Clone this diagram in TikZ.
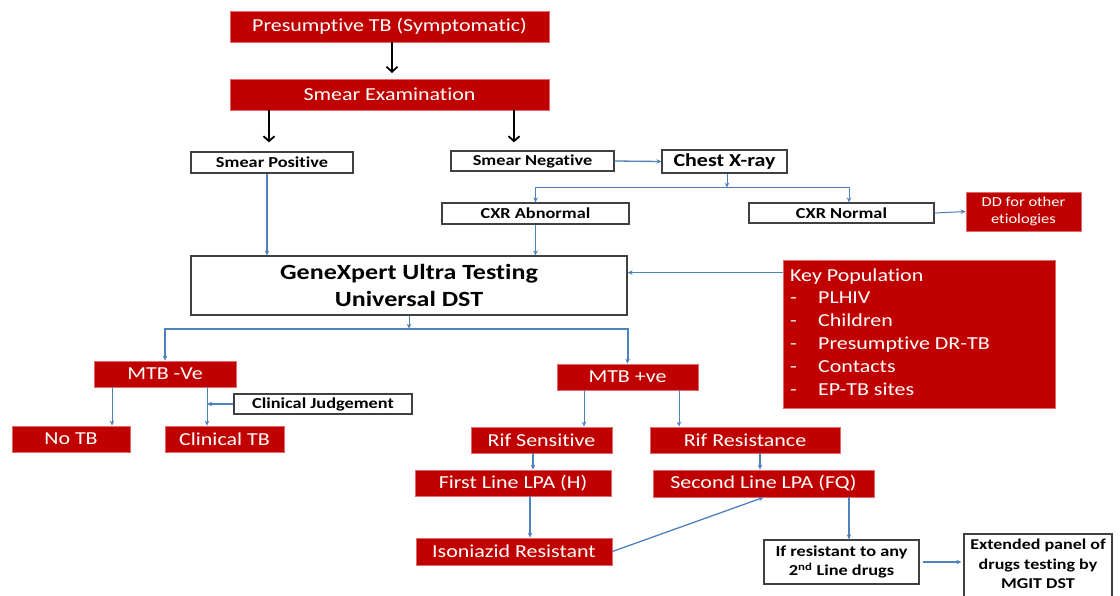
\documentclass[tikz,border=0pt]{standalone}
\usepackage{fontspec}
\setmainfont{Carlito}[Ligatures=NoCommon, FakeStretch=1.2]
\usetikzlibrary{arrows.meta,calc}
\definecolor{tbred}{HTML}{C00000}
\definecolor{tbblue}{HTML}{4F81BD}
\definecolor{tbedge}{HTML}{E06A6A}
\definecolor{tbgray}{HTML}{404040}
\tikzset{
 redbox/.style={fill=tbred, draw=tbedge, line width=0.8pt, text=white, inner sep=0pt, align=center, font=\fontsize{18.3}{26}\selectfont},
 whitebox/.style={fill=white, draw=tbgray, line width=1.2pt, text=black, inner sep=0pt, align=center, font=\bfseries\fontsize{15.25}{21}\selectfont},
 sz/.style 2 args={minimum width=#1, minimum height=#2},
 blk/.style={draw=black, line width=1.8pt, -{Straight Barb[length=5pt,width=11pt,line width=1.8pt]}},
 blu/.style={draw=tbblue, line width=1.3pt, -{Stealth[length=5pt,width=4.5pt]}},
 bluthick/.style={blu, line width=2pt},
 bluthin/.style={blu, line width=1pt},
}
\begin{document}
\begin{tikzpicture}[x=1pt,y=-1pt]
\useasboundingbox[fill=white] (0,0) rectangle (1120,595);
% nodes
\node[redbox, sz={319pt}{31pt}] (pres) at (389.5,26.5) {Presumptive TB (Symptomatic)};
\node[redbox, sz={319pt}{31pt}] (smear) at (389.5,94.5) {Smear Examination};
\node[whitebox, sz={162pt}{21pt}] (spos) at (272,162.5) {Smear Positive};
\node[whitebox, sz={163pt}{20pt}] (sneg) at (532.5,161) {Smear Negative};
\node[whitebox, sz={125pt}{23pt}, font=\bfseries\fontsize{18.3}{26}\selectfont] (cxr) at (724.5,161.5) {Chest X-ray};
\node[whitebox, sz={187pt}{21pt}] (cxab) at (535.5,213.5) {CXR Abnormal};
\node[whitebox, sz={185pt}{20pt}] (cxn) at (841.5,213) {CXR Normal};
\node[redbox, sz={115pt}{39pt}, font=\fontsize{13.75}{17.5}\selectfont] (dd) at (1023.5,211.5) {DD for other\\etiologies};
\node[whitebox, sz={436pt}{59pt}, font=\bfseries\fontsize{21.7}{27.5}\selectfont] (gx) at (409,285.5) {GeneXpert Ultra Testing\\Universal DST};
\node[redbox, sz={272pt}{148pt}] (kp) at (919,334) {};
\node[anchor=north west, inner sep=0pt, text=white, font=\fontsize{18.3}{22.8}\selectfont] (kptext) at (790,265) {\begin{tabular}{@{}p{28pt}@{}l@{}}
\multicolumn{2}{@{}l@{}}{Key Population}\\
- & PLHIV\\
- & Children\\
- & Presumptive DR-TB\\
- & Contacts\\
- & EP-TB sites
\end{tabular}};
\node[redbox, sz={142pt}{26pt}] (mneg) at (165,374) {MTB -Ve};
\node[redbox, sz={141pt}{26pt}] (mpos) at (627.5,377) {MTB +ve};
\node[whitebox, sz={178pt}{20pt}] (cj) at (323,404) {Clinical Judgement};
\node[redbox, sz={118pt}{26pt}] (notb) at (71,439) {No TB};
\node[redbox, sz={119pt}{26pt}] (ctb) at (224.5,439) {Clinical TB};
\node[redbox, sz={141pt}{26pt}] (rs) at (541.5,440) {Rif Sensitive};
\node[redbox, sz={190pt}{26pt}] (rr) at (745,440) {Rif Resistance};
\node[redbox, sz={196pt}{26pt}] (fl) at (513,483) {First Line LPA (H)};
\node[redbox, sz={221pt}{27pt}] (sl) at (763.5,483.5) {Second Line LPA (FQ)};
\node[redbox, sz={196pt}{27pt}] (inh) at (514,551.5) {Isoniazid Resistant};
\node[whitebox, sz={155pt}{44pt}, font=\bfseries\fontsize{15.25}{18.5}\selectfont] (ifr) at (841.5,562) {If resistant to any\\2\textsuperscript{nd} Line drugs};
\node[whitebox, sz={148pt}{66pt}, text depth=6pt, font=\bfseries\fontsize{15}{19.3}\selectfont] (ext) at (1038,567) {Extended panel of\\drugs testing by\\MGIT DST};
% connectors
\draw[blk] ([xshift=2.5pt]pres.south) -- ([xshift=2.5pt]pres.south |- 0,73);
\draw[blk] ([xshift=-120.5pt]smear.south) -- ++(0,32);
\draw[blk] ([xshift=124.5pt]smear.south) -- ++(0,32);
\draw[blu] (sneg.east) -- (cxr.west);
\draw[bluthin] ([xshift=2.5pt]cxr.south) -- ++(0,14) coordinate (j1);
\draw[bluthin] (j1) -| (cxab.north);
\draw[bluthin] (j1) -| ([xshift=7.5pt]cxn.north);
\draw[bluthin] (cxn.east) -- (dd.west);
\draw[blu] (cxab.south) -- (cxab.south |- gx.north);
\draw[blu] ([xshift=-5pt]spos.south) -- ([xshift=-5pt]spos.south |- gx.north);
\draw[blu] ([yshift=-13pt]kp.north west) -- ([yshift=-13pt]kp.north west -| gx.east);
\draw[bluthin] (gx.south) -- ++(0,13) coordinate (j2);
\draw[bluthick] (j2) -| (mneg.north);
\draw[bluthick] (j2) -| (mpos.north);
\draw[bluthin] ([xshift=-53pt]mneg.south) -- ([xshift=41pt]notb.north);
\draw[bluthin] ([xshift=42pt]mneg.south) -- ([xshift=-17.5pt]ctb.north) coordinate[pos=0.45] (cjin);
\draw[blu] (cj.west) -- (cj.west -| cjin);
\draw[bluthin] ([xshift=-43.5pt]mpos.south) -- ([xshift=42.5pt]rs.north);
\draw[bluthin] ([xshift=51.5pt]mpos.south) -- ([xshift=-66pt]rr.north);
\draw[blu] ([xshift=-8.5pt]rs.south) -- ([xshift=20pt]fl.north);
\draw[blu] ([xshift=15pt]rr.south) -- ([xshift=-3.5pt]sl.north);
\draw[bluthick] ([xshift=17pt]fl.south) -- ([xshift=16pt]inh.north);
\draw[blu] (inh.east) -- (sl.south);
\draw[blu] ([xshift=85.5pt]sl.south) -- ([xshift=7.5pt]ifr.north);
\draw[blu] ([xshift=3pt]ifr.east) -- ([xshift=-2pt]ifr.east -| ext.west);
\end{tikzpicture}
\end{document}
